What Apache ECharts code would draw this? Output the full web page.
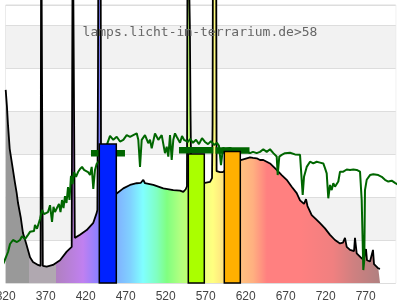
<!DOCTYPE html>
<html>
<head>
<meta charset="utf-8">
<script src="https://cdn.jsdelivr.net/npm/echarts@6/dist/echarts.min.js"></script>
<style>
html,body{margin:0;padding:0;background:#fff;}
#c{width:400px;height:300px;}
</style>
</head>
<body>
<div id="c"></div>
<script>
// ---- DATA ----
const titleText = 'lamps.licht-im-terrarium.de>58';
const xTickStart = 320, xTickStep = 50;

// lamp spectrum (nm, relative intensity)
const lampNm = [320,321.6,322.9,325,328.5,331.6,333.75,335.4,338.75,341.6,345.4,350.4,354.1,360.4,363.6,364.4,365.6,366.4,371.25,379.1,387.9,396.25,402.5,403.2,403.8,405.8,406.4,412.9,421.25,429.5,433.75,434.6,435.4,436,438.6,439.2,445,452,458.75,467,475.4,483.75,489,492,494.1,504.5,517,529.5,537.9,542,545,546.6,547.4,549.5,550.2,551,551.6,556,562,569.1,575.4,577.9,578.6,579.2,583,583.6,584.1,587.9,591.6,600,610,613.75,621.25,625.4,629.1,633.75,637.9,642,646.25,650.4,652.5,658.75,665,671.25,677.5,683.75,687.9,692.9,695.4,697.25,702.5,708.75,712.9,719.1,725.4,731.6,737.9,741.6,744.1,746.25,750.4,755.4,756.6,758.75,765,768,770.4,771.6,775.4,779.1,780.4,785.75,787.9];
const lampVal = [44.9,40.9,36.7,31.2,27,23.3,20.9,18.6,15.3,11.6,9.3,6.0,4.9,4.2,4.0,90,90,4.0,3.8,4.2,5.3,7.3,8.4,8.6,90,90,10.5,11.2,12.3,14.0,16.3,17.0,50,90,90,20,20.3,20.6,20.8,22.0,22.8,23.2,23.3,24.0,23.2,22.8,22.0,21.6,21.5,21.2,21.8,22.5,90,90,60,40,30,24,23.5,23.3,23.5,24.4,37,90,90,26,25.7,25.8,25.8,27,28,28.6,29.0,29.2,29.1,29.0,28.6,28.6,28.2,27.8,27.4,26.3,25.1,24.0,22.4,20.9,19.2,18.4,19.5,17.9,15.8,14.7,13.9,12.7,11.2,10.0,9.2,9.4,10.5,8.4,7.7,7.4,10.5,6.9,5.7,5.8,7.9,5.3,5.0,7.7,4.4,3.4,3.3];

// daylight reference spectrum (nm, relative intensity)
const sunNm = [314.1,317.9,322.9,325.4,329.1,334.1,337.9,340.4,344.1,347.9,350.4,352.9,355.4,356.6,359.1,362.9,365.4,367.9,370.4,372.9,375.4,377.9,379.75,381.6,384.1,386.6,388.5,390.4,392.25,394.1,396,397.9,399.75,401.6,403.5,405.4,407.9,410.4,412.9,415.4,417.9,420.4,422.9,425.4,427.5,429.5,431.6,433.75,437.9,444.1,450.4,454.5,458.75,462.9,467,471.25,475.4,479.5,483.75,485.75,487.9,490,494.1,496.25,498.25,500.4,502.5,506.6,510.75,515,519.1,521.25,523.25,525.4,527.5,529.5,531.6,533.75,535.75,537.9,540.4,542.9,545.4,547.9,550.4,554.1,557.9,561.6,565.4,569.1,572.9,576.6,580.4,584.1,586.6,589.1,591.6,595.4,600.4,605.4,610.4,615.4,620.4,625.4,629.1,633.75,637.9,642,646.25,650.4,654.5,656.6,658.75,660,662,665,669.1,675.4,681.6,687.9,690,691.25,692.9,696.25,700.4,704.5,708.75,712.9,717,719.1,721.25,723.25,725.4,727.5,729.5,731.6,735.75,737.9,742,746.25,750.4,754.5,758.75,762.9,765,767,768.25,769.1,771.25,775.4,779.5,785.75,790,794.1,798.25,802.5,806.6,810.75,814];
const sunVal = [3.26,4.88,7.21,9.07,10.0,9.53,10.0,10.9,10.2,11.2,11.9,12.3,12.1,13.5,12.6,14.9,17.0,16.0,16.3,16.5,18.1,14.2,17.7,16.5,16.7,18.4,16.5,19.3,17.4,20.2,18.6,22.3,19.3,24.9,23.0,25.8,24.7,25.8,26.5,27.0,26.3,26.7,25.8,25.1,27.0,21.9,26.3,27.7,28.6,30.9,34.2,33.3,34.0,32.9,33.3,34.4,34.0,34.4,34.8,33.3,27.0,33.3,34.4,34.8,32.5,33.3,31.3,34.8,33.3,34.4,30.2,31.7,29.4,34.4,28.6,33.3,34.8,34.0,34.4,32.6,34.2,33.3,33.7,32.8,33.5,32.6,33.3,32.3,33.7,32.8,32.3,33.0,32.1,32.6,31.9,27.4,31.4,31.2,31.4,30.9,31.2,30.9,30.7,30.2,30.5,30.2,30.5,31.1,30.5,31.1,30.2,30.5,29.4,25.1,29.4,29.8,30.2,30.3,29.9,29.8,29.4,20.5,24.7,27.0,28.2,27.8,28.2,28.0,27.8,26.7,25.5,19.7,22.8,21.6,23.2,22.4,23.6,25.9,25.9,26.4,26.3,26.4,26.3,25.9,19.3,3.0,5.3,21.6,24.0,25.1,25.3,25.1,24.7,24.0,23.6,23.8,23.3,22.8,22.6];

// colour bins (bars)
const binStart = [437, 548.25, 593.25];
const binEnd   = [458.25, 568.25, 613.25];
const binVal   = [32.3, 30.0, 30.6];

// daylight level per bin (thick segments)
const segStart = [426.6, 536.6, 582.25];
const segEnd   = [469.1, 579.5, 624.75];
const segVal   = [30.2, 30.9, 30.8];

// ---- STYLE ----
const binColors = ['#0022ff', '#aaff00', '#ffb000'];
const spectrumStops = [
  [320,'#999999'],[349.1,'#999999'],[349.2,'#b0a8b0'],[382.9,'#b0a8b0'],[383,'#b080c0'],
  [400.4,'#b880d8'],[416.6,'#c080f0'],[434.1,'#9080ff'],[436.6,'#8080ff'],
  [457.9,'#80b0ff'],[475.4,'#80d0ff'],[491.6,'#80ffff'],[509.1,'#80ffc0'],[521.6,'#80ff80'],
  [537.9,'#b0ff80'],[547.9,'#c0ff70'],[567.9,'#f0ff80'],[579.1,'#ffff80'],[592.9,'#ffe080'],
  [614.1,'#ffc080'],[629.1,'#ffb080'],[646.6,'#ff8080'],[687.9,'#ff8080'],[729.1,'#f08080'],
  [754.1,'#d08080'],[787.9,'#b08080']
];
const nmMin = lampNm[0], nmMax = lampNm[lampNm.length-1];
const gradient = {
  type:'linear', x:0, y:0, x2:1, y2:0,
  colorStops: spectrumStops.map(s => ({offset:(s[0]-nmMin)/(nmMax-nmMin), color:s[1]}))
};

const zip = (a,b) => a.map((v,i)=>[v,b[i]]);

const chart = echarts.init(document.getElementById('c'), null, {renderer:'canvas'});
const series = [
  {
    type:'line', data: zip(lampNm, lampVal), symbol:'none', clip:false, z:2,
    lineStyle:{color:'#000', width:1.8}, areaStyle:{color:gradient, opacity:1},
    animation:false
  },
  {
    type:'line', data: zip(sunNm, sunVal), symbol:'none', clip:false, z:3,
    lineStyle:{color:'#006600', width:2}, animation:false
  }
];
segStart.forEach((s,i)=>{
  series.push({
    type:'line', data:[[s,segVal[i]],[segEnd[i],segVal[i]]], symbol:'none', z:4,
    lineStyle:{color:'#006600', width:6.5, cap:'butt'}, animation:false
  });
});
series.push({
  type:'custom', z:5, animation:false,
  data: binStart.map((s,i)=>[s, binEnd[i], binVal[i], i]),
  renderItem: function(params, api){
    const p0 = api.coord([api.value(0), api.value(2)]);
    const p1 = api.coord([api.value(1), 0]);
    return {
      type:'rect',
      shape:{x:p0[0], y:p0[1], width:p1[0]-p0[0], height:p1[1]-p0[1]},
      style:{fill: binColors[api.value(3)], stroke:'#000', lineWidth:1.5}
    };
  }
});

chart.setOption({
  animation:false,
  backgroundColor:'#fff',
  title:{
    text:titleText, left:'center', top:26, padding:0,
    textStyle:{fontFamily:'DejaVu Sans Mono', fontSize:13, fontWeight:'normal', color:'#666'}
  },
  grid:{left:5.7, right:4.3, top:5, bottom:17, containLabel:false, outerBoundsMode:'none',
        show:true, borderColor:'#ddd', borderWidth:1, backgroundColor:'#fff'},
  xAxis:{
    type:'value', min:xTickStart, max:807.5, interval:xTickStep,
    axisLine:{show:false}, axisTick:{show:false}, splitLine:{show:false},
    axisLabel:{color:'#444', fontSize:12, fontFamily:'Liberation Sans', margin:8,
               showMaxLabel:false, showMinLabel:true, hideOverlap:false,
               alignMinLabel:'center', alignMaxLabel:'center'}
  },
  yAxis:{
    type:'value', min:0, max:64.65, interval:10,
    axisLine:{show:false}, axisTick:{show:false}, axisLabel:{show:false},
    splitLine:{show:true, lineStyle:{color:'#ddd', width:1}},
    splitArea:{show:true, areaStyle:{color:['#ffffff','#f2f2f2']}}
  },
  series: series
});
</script>
</body>
</html>
